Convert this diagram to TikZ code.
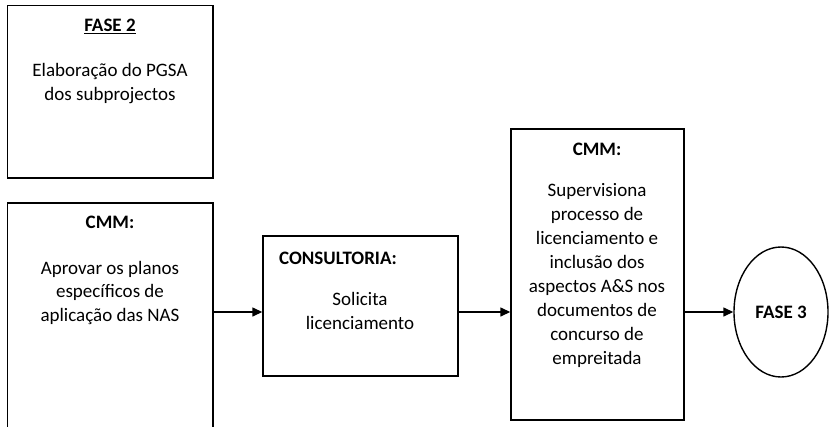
\documentclass[tikz,border=0pt]{standalone}
\usepackage{fontspec}
\setmainfont{Carlito}
\usetikzlibrary{arrows.meta,shapes.geometric}
\begin{document}
\begin{tikzpicture}[x=1pt,y=-1pt,
  box/.style={draw, line width=1.4pt, inner sep=0pt},
  txt/.style={font=\fontsize{19}{23.5}\selectfont, align=center, inner sep=0pt},
  tall/.style={font=\fontsize{19}{24}\selectfont},
  arr/.style={line width=1.4pt, -{Triangle[length=10pt,width=9pt]}}]
\useasboundingbox (0,0) rectangle (830,426);
\clip (0,0) rectangle (830,426);
% boxes
\node[box, minimum width=205.5pt, minimum height=172.5pt] (b1) at (110.25,91.75) {};
\node[box, minimum width=205.5pt, minimum height=247pt] (b2) at (110.25,326.5) {};
\node[box, minimum width=195pt, minimum height=140pt] (b3) at (360.5,306) {};
\node[box, minimum width=173pt, minimum height=291pt] (b4) at (597.5,274.5) {};
\node[draw, ellipse, line width=1.4pt, inner sep=0pt, minimum width=94pt, minimum height=130pt] (e) at (781,312) {};
% texts
\node[txt] (t1h) at (110,26.5) {\underline{\textbf{FASE 2}}};
\node[txt] (t1) at (110,83.5) {Elaboração do PGSA\\dos subprojectos};
\node[txt] (t2h) at (110,222) {\textbf{CMM:}};
\node[txt] (t2) at (110,292.5) {Aprovar os planos\\específicos de\\aplicação das NAS};
\node[txt, anchor=west] (t3h) at (279,258) {\textbf{CONSULTORIA:}};
\node[txt, tall] (t3) at (360,311) {Solicita\\licenciamento};
\node[txt] (t4h) at (597,149) {\textbf{CMM:}};
\node[txt, tall] (t4) at (597,275) {Supervisiona\\processo de\\licenciamento e\\inclusão dos\\aspectos A\&S nos\\documentos de\\concurso de\\empreitada};
\node[txt] (t5) at (781,312) {\textbf{FASE 3}};
% arrows
\coordinate (y1) at (0,312);
\draw[arr] (b2.east |- y1) -- (b3.west |- y1);
\draw[arr] (b3.east |- y1) -- (b4.west |- y1);
\draw[arr] (b4.east |- y1) -- (e.west);
\end{tikzpicture}
\end{document}
